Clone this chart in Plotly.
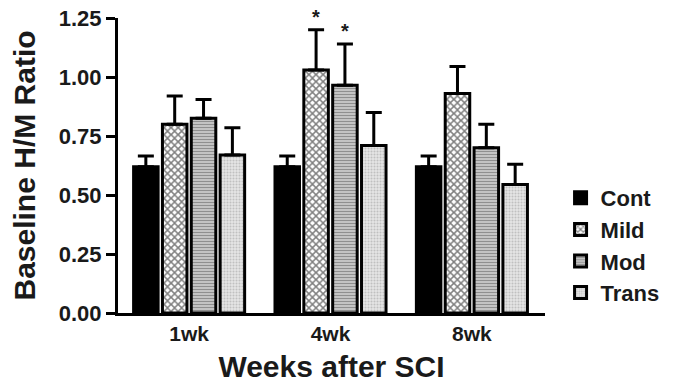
import plotly.graph_objects as go

weeks = ["1wk", "4wk", "8wk"]
groups = ["Cont", "Mild", "Mod", "Trans"]
means = {
    "Cont": [0.62, 0.62, 0.62],
    "Mild": [0.80, 1.03, 0.93],
    "Mod": [0.825, 0.965, 0.70],
    "Trans": [0.67, 0.71, 0.545],
}
errs = {
    "Cont": [0.045, 0.045, 0.045],
    "Mild": [0.12, 0.17, 0.115],
    "Mod": [0.08, 0.175, 0.10],
    "Trans": [0.115, 0.14, 0.085],
}
sig = [("Mild", 1), ("Mod", 1)]  # significant bars (group, week index)

patterns = {
    "Cont": dict(shape="", bgcolor="black"),
    "Mild": dict(shape="x", fgcolor="black", bgcolor="white", size=5, solidity=0.5),
    "Mod": dict(shape="-", fgcolor="#555555", bgcolor="#c8c8c8", size=3, solidity=0.4),
    "Trans": dict(shape=".", fgcolor="#9a9a9a", bgcolor="#e6e6e6", size=3, solidity=0.4),
}
colors = {"Cont": "black", "Mild": "white", "Mod": "#c8c8c8", "Trans": "#e6e6e6"}

bargap = 0.184
bargroupgap = 0.15
xs = list(range(len(weeks)))

fig = go.Figure()
for g in groups:
    fig.add_trace(go.Bar(
        name=g, x=xs, y=means[g], legendgroup=g,
        marker=dict(color=colors[g], line=dict(color="black", width=3), pattern=patterns[g]),
        error_y=dict(type="data", symmetric=False, array=errs[g], arrayminus=[0] * len(weeks),
                     color="black", thickness=3, width=8),
    ))

slot = (1 - bargap) / len(groups)
for g, wi in sig:
    k = groups.index(g)
    fig.add_annotation(x=xs[wi] + (k - (len(groups) - 1) / 2) * slot,
                       y=means[g][wi] + errs[g][wi], yshift=13, text="*", showarrow=False,
                       font=dict(size=20, color="#1a1a1a", family="Liberation Sans", weight="bold"))

fam = "Liberation Sans, Arial, sans-serif"
fig.update_layout(
    width=676, height=386,
    margin=dict(l=118, r=111, t=18, b=73),
    paper_bgcolor="white", plot_bgcolor="white",
    barmode="group", bargap=bargap, bargroupgap=bargroupgap,
    font=dict(family=fam, color="#1a1a1a", weight="bold"),
    showlegend=True,
    legend=dict(x=1.28, y=0.461, xanchor="right", yanchor="top", tracegroupgap=0,
                font=dict(size=22, family=fam, color="#1a1a1a", weight="bold"),
                bgcolor="rgba(0,0,0,0)"),
    xaxis=dict(range=[-0.503, 2.517], tickvals=xs, ticktext=weeks, showline=True,
               linecolor="black", linewidth=3, ticks="", showgrid=False, zeroline=False,
               automargin=False, tickfont=dict(size=21),
               title=dict(text="Weeks after SCI", font=dict(size=30), standoff=12)),
    yaxis=dict(range=[0, 1.25], tickvals=[0, 0.25, 0.5, 0.75, 1.0, 1.25],
               ticktext=["0.00", "0.25", "0.50", "0.75", "1.00", "1.25"],
               showline=True, linecolor="black", linewidth=3, ticks="outside", ticklen=9,
               tickwidth=3, tickcolor="black", showgrid=False, zeroline=False,
               automargin=False, tickfont=dict(size=22),
               title=dict(text="Baseline H/M Ratio", font=dict(size=30), standoff=15)),
)
fig.write_html("out.html", post_script="document.body.style.margin='0';",
               config={"displayModeBar": False})
